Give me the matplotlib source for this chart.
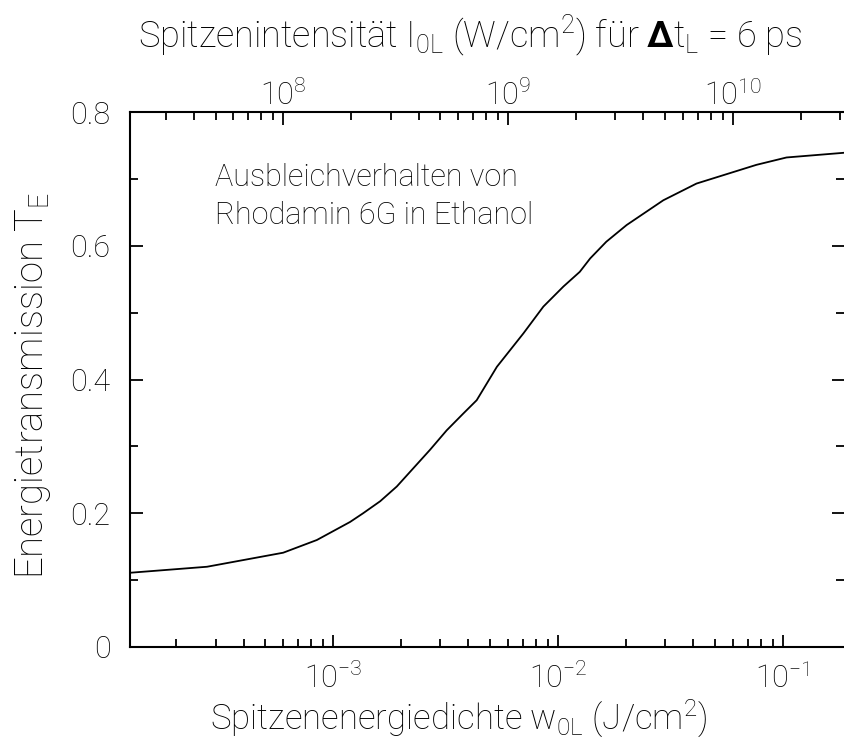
import numpy as np
import matplotlib
matplotlib.use("Agg")
import matplotlib.pyplot as plt
from matplotlib.ticker import LogLocator, NullFormatter, MultipleLocator, FixedLocator, LogFormatterMathtext

FONT = "Roboto"
plt.rcParams["font.family"] = [FONT, "DejaVu Sans"]
plt.rcParams["font.weight"] = "light"
plt.rcParams["axes.labelweight"] = "light"
plt.rcParams["mathtext.fontset"] = "custom"
plt.rcParams["mathtext.rm"] = f"{FONT}:light"
plt.rcParams["mathtext.it"] = f"{FONT}:light"
plt.rcParams["mathtext.bf"] = f"{FONT}:bold"
plt.rcParams["mathtext.default"] = "regular"

# Energy transmission of Rhodamine 6G in ethanol vs. peak energy density
fluence = [1.25e-4, 2.75e-4, 6.0e-4, 8.47e-4, 1.19e-3, 1.36e-3, 1.62e-3, 1.92e-3,
           2.70e-3, 3.20e-3, 3.79e-3, 4.35e-3, 5.35e-3, 7.02e-3, 8.61e-3, 1.057e-2,
           1.25e-2, 1.39e-2, 1.64e-2, 2.02e-2, 2.94e-2, 4.13e-2, 7.63e-2, 0.1038, 0.1866]
transmission = [0.111, 0.120, 0.141, 0.160, 0.187, 0.200, 0.218, 0.240,
                0.295, 0.324, 0.349, 0.369, 0.419, 0.469, 0.509, 0.539,
                0.561, 0.581, 0.606, 0.631, 0.668, 0.693, 0.721, 0.732, 0.739]
pulse_duration = 6e-12  # s
y_ticks = [0, 0.2, 0.4, 0.6, 0.8]
y_tick_labels = ["0", "0.2", "0.4", "0.6", "0.8"]
bottom_ticks = [1e-3, 1e-2, 1e-1]
top_ticks = [1e8, 1e9, 1e10]

W, H = 844, 742
fig = plt.figure(figsize=(W / 100, H / 100), dpi=100)
ax = fig.add_axes([130 / W, (H - 647) / H, 714 / W, 535 / H])

ax.plot(fluence, transmission, color="black", lw=1.3)
ax.set_xscale("log")
ax.set_xlim(1.25e-4, 0.187)
ax.set_ylim(0, 0.8)

ax.yaxis.set_major_locator(FixedLocator(y_ticks))
ax.set_yticklabels(y_tick_labels)
ax.yaxis.set_minor_locator(MultipleLocator(0.1))
ax.xaxis.set_major_locator(FixedLocator(bottom_ticks))
ax.xaxis.set_major_formatter(LogFormatterMathtext())
ax.xaxis.set_minor_locator(LogLocator(base=10, subs=np.arange(2, 10), numticks=20))
ax.xaxis.set_minor_formatter(NullFormatter())

for s in ax.spines.values():
    s.set_linewidth(1.5)
ax.spines["right"].set_visible(False)
ax.spines["top"].set_visible(False)

ax.tick_params(axis="both", which="both", direction="in", width=1.3, colors="black")
ax.tick_params(axis="y", which="both", right=True, left=True)
ax.tick_params(axis="x", which="both", top=False)
ax.tick_params(which="major", length=9)
ax.tick_params(which="minor", length=6)
ax.tick_params(axis="y", labelsize=22, pad=14)
ax.tick_params(axis="x", labelsize=22, pad=11)

# axis titles placed in figure pixels
fig.text(459 / W, 1 - 730 / H, r"Spitzenenergiedichte w$_{0L}$ (J/cm$^2$)",
         fontsize=25, ha="center", va="baseline")
fig.text(43 / W, 1 - 386 / H, r"Energietransmission T$_E$", fontsize=27.5,
         rotation=90, rotation_mode="anchor", ha="center", va="baseline")

top = ax.secondary_xaxis("top", functions=(lambda w: w / pulse_duration,
                                           lambda i: i * pulse_duration))
top.xaxis.set_major_locator(FixedLocator(top_ticks))
top.xaxis.set_major_formatter(LogFormatterMathtext())
top.xaxis.set_minor_locator(LogLocator(base=10, subs=np.arange(2, 10), numticks=20))
top.xaxis.set_minor_formatter(NullFormatter())
top.spines["top"].set_linewidth(1.5)
top.tick_params(which="both", direction="in", width=1.3)
top.tick_params(which="major", length=9, labelsize=22, pad=1)
top.tick_params(which="minor", length=6)
fig.text(470 / W, 1 - 47 / H,
         r"Spitzenintensität I$_{0L}$ (W/cm$^2$) für $\mathbf{\Delta}$t$_L$ = 6 ps",
         fontsize=26, ha="center", va="baseline")

ax.text(0.119, 0.905, "Ausbleichverhalten von\nRhodamin 6G in Ethanol",
        transform=ax.transAxes, fontsize=22, va="top", ha="left", linespacing=1.4)

fig.savefig("out.png", dpi=100)
